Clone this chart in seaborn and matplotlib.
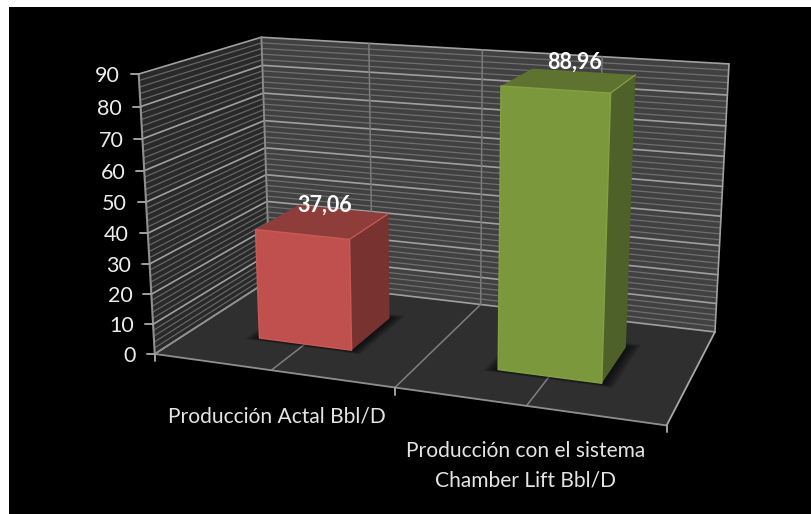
import numpy as np
import matplotlib
matplotlib.use("Agg")
import matplotlib.pyplot as plt
from matplotlib.patches import Polygon, Rectangle
from matplotlib.transforms import Transform
import seaborn as sns

# Chart values
categories = ["Producción Actal Bbl/D", "Producción con el sistema\nChamber Lift Bbl/D"]
production = [37.06, 88.96]
value_labels = ["37,06", "88,96"]
axis_ticks = [0, 10, 20, 30, 40, 50, 60, 70, 80, 90]
minor_ticks = [v for v in range(0, 91, 2) if v % 10]
bar_colors = ["#c0504d", "#7c983d"]
top_colors = ["#8f3d3b", "#5e732f"]
side_colors = ["#783230", "#4e6128"]
edge_colors = ["#c65a57", "#83a044"]

W, H = 812, 514
AXIS_MAX = 90
BAR_WIDTH = 0.4
FRONT, BACK = 0.3, 0.7

# Camera of the 3D box: world (category, depth, value) to pixel positions,
# solved from where reference corners of the scene should land.
world_pts = np.array([(0, 0, 0), (2, 0, 0), (0, 1, 0), (2, 1, 0), (0, 0, 90),
                      (0, 1, 90), (2, 1, 90), (1, 0, 0), (1, 1, 0),
                      (0.3, 0.3, 37.06), (1.3, 0.3, 88.96), (1.7, 0.3, 88.96),
                      (1.3, 0.7, 88.96), (1.7, 0.7, 88.96), (0.7, 0.7, 37.06)], float)
pixel_pts = np.array([(154, 353), (667, 425), (270, 279), (715, 332), (139, 73),
                      (261, 37), (729, 62), (394, 388), (482, 304),
                      (257, 231), (503, 86), (610, 92),
                      (533, 69), (634, 77), (386, 216)], float)
rows, rhs = [], []
for (x, y, z), (u, v) in zip(world_pts, pixel_pts):
    rows.append([x, y, z, 1, 0, 0, 0, 0, -u * x, -u * y, -u * z])
    rhs.append(u)
    rows.append([0, 0, 0, 0, x, y, z, 1, -v * x, -v * y, -v * z])
    rhs.append(v)
solution = np.linalg.lstsq(np.array(rows), np.array(rhs), rcond=None)[0]
CAMERA = np.append(solution, 1).reshape(3, 4)


def project(x, y, z):
    h = CAMERA @ np.array([x, y, z, 1.0])
    return h[:2] / h[2]


class FrontPlane(Transform):
    """Maps seaborn's (bar position, value) onto the front plane of the bars."""
    input_dims = 2
    output_dims = 2

    def transform_non_affine(self, values):
        values = np.asarray(values, float)
        return np.array([project(px + 0.5, FRONT, v) for px, v in values])


sns.set_theme(style="white")
plt.rcParams["font.family"] = ["Lato", "DejaVu Sans"]

fig = plt.figure(figsize=(W / 100, H / 100), dpi=100, facecolor="white")
ax = fig.add_axes([0, 0, 1, 1])
sns.barplot(x=categories, y=production, hue=categories, palette=bar_colors,
            width=BAR_WIDTH, saturation=1, legend=False, ax=ax)
ax.set_xlim(0, W)
ax.set_ylim(H, 0)
ax.axis("off")


def face(corners, color, z, **kw):
    ax.add_patch(Polygon([project(*c) for c in corners], closed=True, facecolor=color,
                         edgecolor=kw.pop("edgecolor", "none"), zorder=z, **kw))


def seg(a, b, color, lw, z=0.5):
    pa, pb = project(*a), project(*b)
    ax.plot([pa[0], pb[0]], [pa[1], pb[1]], color=color, lw=lw, zorder=z,
            solid_capstyle="round")


# Backdrop
ax.add_patch(Rectangle((9, 7), W, H, facecolor="black", edgecolor="none", zorder=0))

# Walls and floor
face([(0, 0, 0), (0, 1, 0), (0, 1, AXIS_MAX), (0, 0, AXIS_MAX)], "#292929", 0.1)
face([(0, 1, 0), (2, 1, 0), (2, 1, AXIS_MAX), (0, 1, AXIS_MAX)], "#414141", 0.1)
face([(0, 0, 0), (2, 0, 0), (2, 1, 0), (0, 1, 0)], "#2f2f2f", 0.2)

# Value gridlines on both walls
for v in minor_ticks:
    seg((0, 0, v), (0, 1, v), "#666666", 0.9, 0.3)
    seg((0, 1, v), (2, 1, v), "#6f6f6f", 0.9, 0.3)
for v in axis_ticks:
    seg((0, 0, v), (0, 1, v), "#a0a0a0", 1.2, 0.4)
    seg((0, 1, v), (2, 1, v), "#a0a0a0", 1.2, 0.4)

# Category gridlines on the back wall and floor
for x in (0.5, 1, 1.5):
    seg((x, 1, 0), (x, 1, AXIS_MAX), "#7a7a7a", 1.1, 0.4)
    seg((x, 0, 0), (x, 1, 0), "#7f7f7f", 1.1, 0.4)

# Box edges
seg((0, 1, 0), (0, 1, AXIS_MAX), "#8a8a8a", 1.4)
seg((2, 1, 0), (2, 1, AXIS_MAX), "#a0a0a0", 1.2)
seg((0, 0, 0), (0, 0, AXIS_MAX), "#8f8f8f", 1.5)
seg((0, 0, 0), (2, 0, 0), "#8f8f8f", 1.3)
seg((2, 0, 0), (2, 1, 0), "#a8a8a8", 1.3)
seg((0, 0, 0), (0, 1, 0), "#8f8f8f", 1.2)

# Tick marks and value axis labels
for v in axis_ticks:
    px, py = project(0, 0, v)
    ax.plot([px - 8, px], [py, py], color="#a0a0a0", lw=1.4, zorder=0.5)
    ax.text(px - 19, py, str(v), color="#ececec", fontsize=15.5, ha="right",
            va="center_baseline", zorder=5)
for x in (0, 1, 2):
    px, py = project(x, 0, 0)
    ax.plot([px, px], [py, py + 7], color="#a0a0a0", lw=1.4, zorder=0.5)

# Bars: seaborn draws the front faces, top, side and floor shadow follow from them
for patch in ax.patches[:]:
    if not isinstance(patch, Rectangle) or patch.get_height() not in production:
        continue
    k = production.index(patch.get_height())
    x0 = patch.get_x() + 0.5
    x1 = x0 + patch.get_width()
    val = patch.get_height()

    # Soft contact shadow built from thin translucent layers
    for grow in np.linspace(0.004, 0.05, 10):
        face([(x0 - grow, FRONT - grow * 0.6, 0), (x1 + grow, FRONT - grow * 0.6, 0),
              (x1 + grow, BACK + grow, 0), (x0 - grow, BACK + grow, 0)],
             "black", 1.0, alpha=0.09)

    face([(x1, FRONT, 0), (x1, BACK, 0), (x1, BACK, val), (x1, FRONT, val)],
         side_colors[k], 2.0)
    face([(x0, FRONT, val), (x1, FRONT, val), (x1, BACK, val), (x0, BACK, val)],
         top_colors[k], 2.0)
    seg((x1, FRONT, val), (x1, BACK, val), edge_colors[k], 0.9, 2.2)

    patch.set_transform(FrontPlane() + ax.transData)
    patch.set_zorder(3)
    patch.set_edgecolor(edge_colors[k])
    patch.set_linewidth(1.0)
    patch.set_joinstyle("round")
    patch.set_clip_on(False)

    tx, ty = project((x0 + x1) / 2, 0.5, val)
    ax.text(tx + (1 if k == 0 else 5), ty - (16 if k == 0 else 18), value_labels[k],
            color="white", fontsize=15.5, fontweight="bold", ha="center", va="center",
            zorder=6)

# Category labels under the floor
offsets = [(6, 36), (-1, 35)]
for i, label in enumerate(categories):
    px, py = project(i + 0.5, 0, 0)
    ax.text(px + offsets[i][0], py + offsets[i][1], label, color="#e4e4e4",
            fontsize=15.1, ha="center", va="top", linespacing=1.6, zorder=5)

fig.savefig("out.png", dpi=100, facecolor="white")
